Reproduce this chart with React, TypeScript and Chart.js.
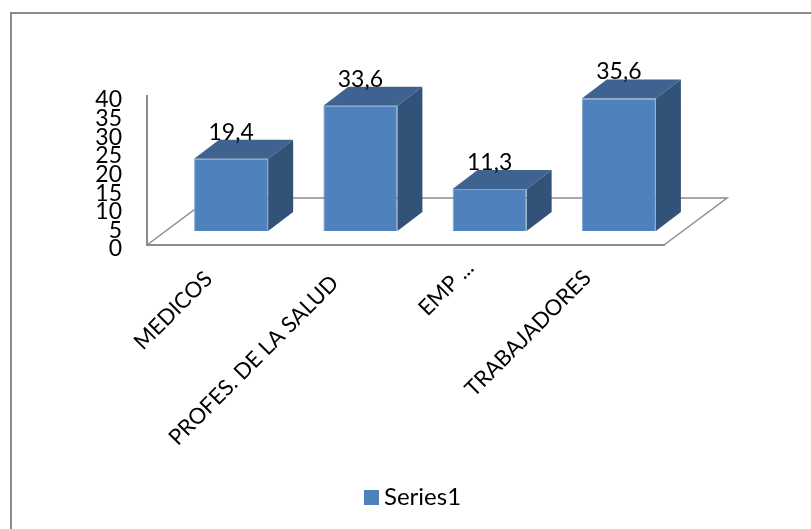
import React, { useEffect, useRef } from "react";
import { Chart, registerables } from "chart.js";

Chart.register(...registerables);

const categories = ["MEDICOS", "PROFES. DE LA SALUD", "EMP ...", "TRABAJADORES"];
const seriesValues = [19.4, 33.6, 11.3, 35.6];
const seriesName = "Series1";

const FONT = "Lato, 'Open Sans', sans-serif";
const FRONT = "#4f81bd";
const TOP = "#3e6390";
const SIDE = "#325278";
const LINE = "#8c8c8c";

// Oblique projection offsets, in pixels
const FLOOR_DEPTH = { x: 63, y: -47 };
const BAR_SHIFT = { x: 19.5, y: -14 };
const BAR_DEPTH = { x: 25, y: -19 };

// Per-label tweaks for the slanted category text
const CATEGORY_NUDGE_X = [-3, -6, 0, -12];
const CATEGORY_NUDGE_Y = [7, 11, -4, 6];
const VALUE_TICK_NUDGE_Y = 4;

// Square legend swatch
function legendSwatch() {
  const swatch = document.createElement("canvas");
  swatch.width = 15;
  swatch.height = 15;
  const c = swatch.getContext("2d")!;
  c.fillStyle = FRONT;
  c.fillRect(0, 0, 15, 15);
  return swatch;
}

const faces3d = {
  id: "faces3d",
  afterLayout(chart: any) {
    chart.scales.x.getLabelItems().forEach((item: any, i: number) => {
      item.options.translation[0] += CATEGORY_NUDGE_X[i];
      item.options.translation[1] += CATEGORY_NUDGE_Y[i];
    });
    chart.scales.y.getLabelItems().forEach((item: any) => {
      item.options.translation[1] += VALUE_TICK_NUDGE_Y;
    });
  },
  beforeDraw(chart: any) {
    const { ctx, width, height } = chart;
    ctx.save();
    ctx.strokeStyle = LINE;
    ctx.lineWidth = 2;
    ctx.beginPath();
    ctx.moveTo(11, height);
    ctx.lineTo(11, 13);
    ctx.lineTo(width, 13);
    ctx.stroke();
    ctx.restore();
  },
  beforeDatasetsDraw(chart: any) {
    const { ctx, chartArea: a } = chart;
    ctx.save();
    ctx.strokeStyle = LINE;
    ctx.lineWidth = 1.5;
    ctx.beginPath();
    ctx.moveTo(a.left, a.bottom);
    ctx.lineTo(a.left + FLOOR_DEPTH.x, a.bottom + FLOOR_DEPTH.y);
    ctx.lineTo(a.right + FLOOR_DEPTH.x, a.bottom + FLOOR_DEPTH.y);
    ctx.lineTo(a.right, a.bottom);
    ctx.stroke();
    ctx.restore();
  },
  beforeDatasetDraw(chart: any, args: any) {
    const { ctx } = chart;
    ctx.save();
    ctx.translate(BAR_SHIFT.x, BAR_SHIFT.y);
    for (const bar of args.meta.data) {
      const l = bar.x - bar.width / 2;
      const r = bar.x + bar.width / 2;
      const t = bar.y;
      const b = bar.base;
      ctx.fillStyle = TOP;
      ctx.beginPath();
      ctx.moveTo(l, t);
      ctx.lineTo(l + BAR_DEPTH.x, t + BAR_DEPTH.y);
      ctx.lineTo(r + BAR_DEPTH.x, t + BAR_DEPTH.y);
      ctx.lineTo(r, t);
      ctx.closePath();
      ctx.fill();
      ctx.fillStyle = SIDE;
      ctx.beginPath();
      ctx.moveTo(r, t);
      ctx.lineTo(r + BAR_DEPTH.x, t + BAR_DEPTH.y);
      ctx.lineTo(r + BAR_DEPTH.x, b + BAR_DEPTH.y);
      ctx.lineTo(r, b);
      ctx.closePath();
      ctx.fill();
    }
  },
  afterDatasetDraw(chart: any) {
    chart.ctx.restore();
  },
  afterDatasetsDraw(chart: any) {
    const { ctx } = chart;
    const meta = chart.getDatasetMeta(0);
    ctx.save();
    ctx.fillStyle = "#000";
    ctx.font = `23px ${FONT}`;
    ctx.textAlign = "center";
    ctx.textBaseline = "alphabetic";
    meta.data.forEach((bar: any, i: number) => {
      const text = String(seriesValues[i]).replace(".", ",");
      ctx.fillText(text, bar.x + BAR_SHIFT.x, bar.y + BAR_SHIFT.y + BAR_DEPTH.y);
    });
    ctx.restore();
  },
};

export default function App() {
  const ref = useRef<HTMLCanvasElement>(null);

  useEffect(() => {
    const chart = new Chart(ref.current!, {
      type: "bar",
      data: {
        labels: categories,
        datasets: [
          {
            label: seriesName,
            data: seriesValues,
            backgroundColor: FRONT,
            borderColor: "#7ea3d0",
            borderWidth: 1,
            barPercentage: 0.573,
            categoryPercentage: 1,
            clip: false,
          } as any,
        ],
      },
      options: {
        animation: false,
        responsive: false,
        layout: { padding: { left: 21, right: 0, top: 96, bottom: 10 } },
        plugins: {
          tooltip: { enabled: false },
          legend: {
            position: "bottom",
            labels: {
              usePointStyle: true,
              pointStyle: legendSwatch(),
              pointStyleWidth: 1,
              padding: 8,
              color: "#000",
              font: { family: FONT, size: 24 },
            },
          },
        },
        scales: {
          x: {
            grid: { display: false, drawTicks: false },
            border: { color: LINE, width: 2 },
            ticks: {
              autoSkip: false,
              minRotation: 45,
              maxRotation: 45,
              padding: 14,
              color: "#000",
              font: { family: FONT, size: 22 },
            },
            afterFit(scale: any) {
              scale.height = 232;
            },
          },
          y: {
            min: 0,
            max: 40,
            grid: { display: false, drawTicks: false },
            border: { color: LINE, width: 2 },
            ticks: {
              stepSize: 5,
              autoSkip: false,
              padding: 25,
              color: "#000",
              font: { family: FONT, size: 23 },
            },
            afterFit(scale: any) {
              scale.width = 126;
            },
          },
          // Blank right-hand gutter that leaves room for the floor's depth
          gutter: {
            position: "right",
            display: true,
            grid: { display: false, drawTicks: false },
            border: { display: false },
            ticks: { display: false },
            afterFit(scale: any) {
              scale.width = 147;
            },
          },
        },
      } as any,
      plugins: [faces3d],
    });
    return () => chart.destroy();
  }, []);

  return (
    <div style={{ position: "fixed", left: 0, top: 0, width: 811, height: 529, background: "#fff" }}>
      <canvas ref={ref} width={811} height={529} style={{ display: "block" }} />
    </div>
  );
}
